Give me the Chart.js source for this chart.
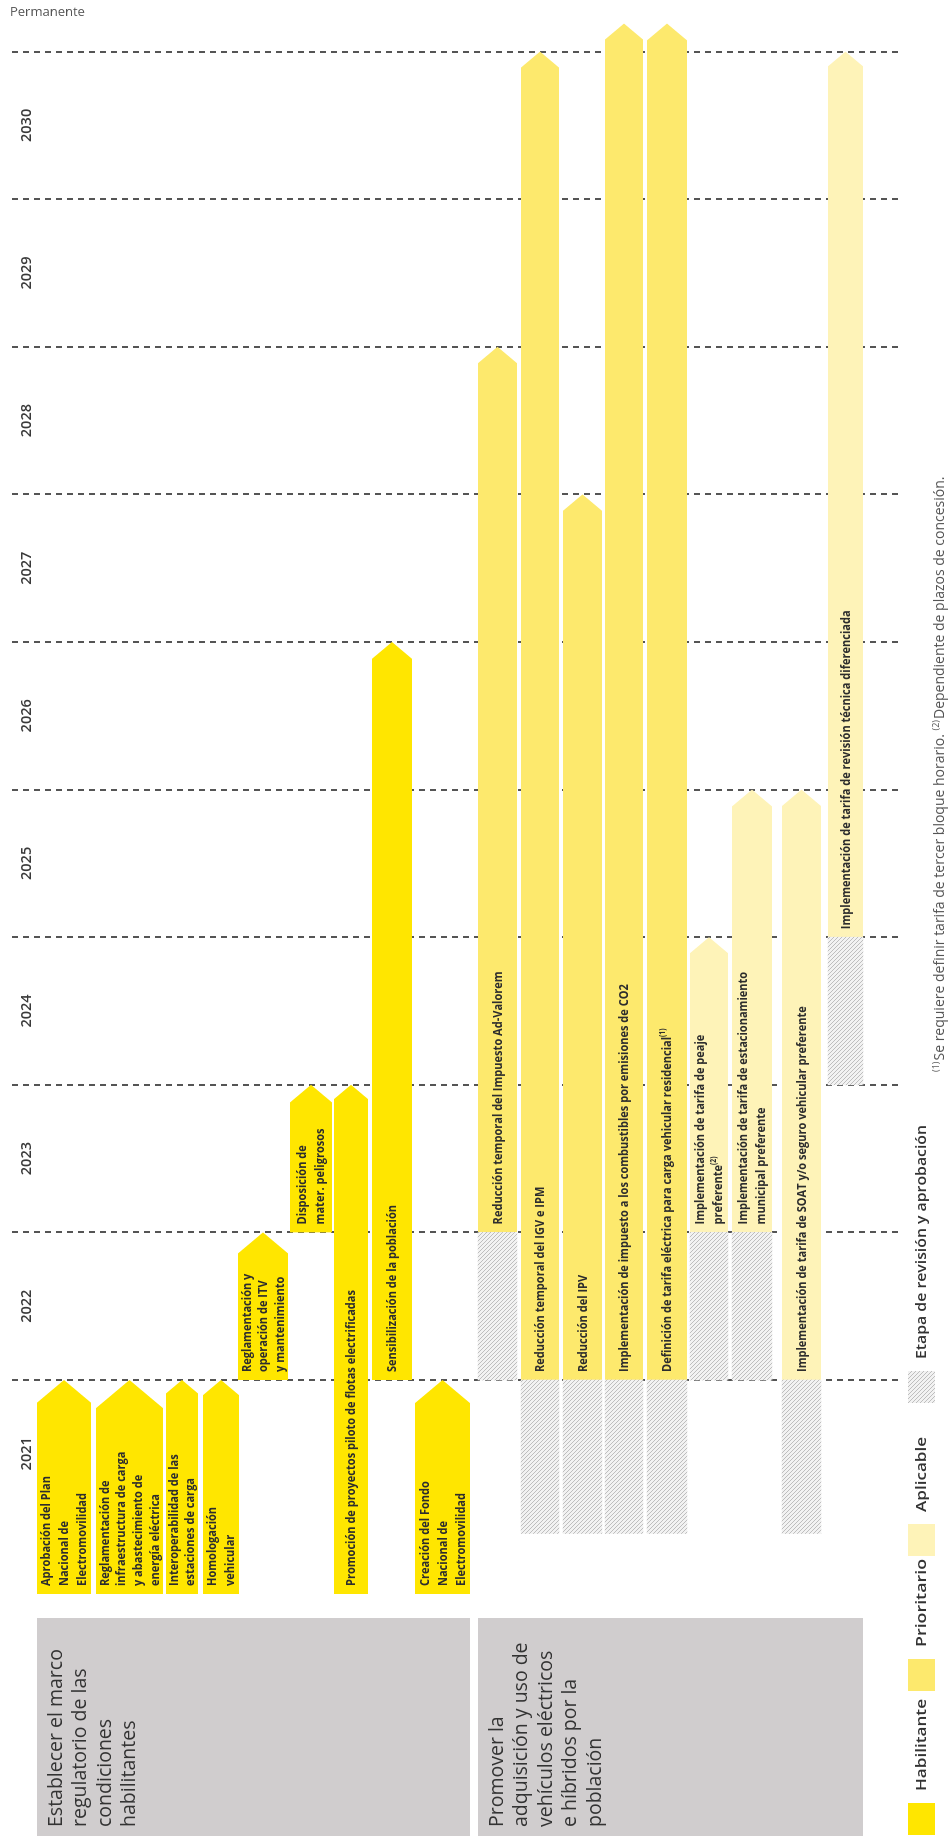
<!DOCTYPE html>
<html><head><meta charset="utf-8">
<script src="https://cdn.jsdelivr.net/npm/chart.js@4/dist/chart.umd.min.js"></script>
<style>
html,body{margin:0;padding:0;width:948px;height:1843px;overflow:hidden;background:#fff;}
#wrap{position:absolute;left:0;top:0;width:1843px;height:948px;transform-origin:0 0;transform:translate(0,1843px) rotate(-90deg);}
canvas{display:block;}
</style></head><body>
<div id="wrap"><canvas id="c" width="1843" height="948"></canvas></div>
<script>
// ---------------- DATA ----------------
const yearLabels = ['2021','2022','2023','2024','2025','2026','2027','2028','2029','2030'];
const yearValues = [2021,2022,2023,2024,2025,2026,2027,2028,2029,2030];
const permanentLabel = 'Permanente';
const groupNames = [
  'Establecer el marco\nregulatorio de las\ncondiciones\nhabilitantes',
  'Promover la\nadquisición y uso de\nvehículos eléctricos\ne híbridos por la\npoblación'
];
const taskNames = [
  'Aprobación del Plan\nNacional de\nElectromovilidad',
  'Reglamentación de\ninfraestructura de carga\ny abastecimiento de\nenergía eléctrica',
  'Interoperabilidad de las\nestaciones de carga',
  'Homologación\nvehicular',
  'Reglamentación y\noperación de ITV\ny mantenimiento',
  'Disposición de\nmater. peligrosos',
  'Promoción de proyectos piloto de flotas electrificadas',
  'Sensibilización de la población',
  'Creación del Fondo\nNacional de\nElectromovilidad',
  'Reducción temporal del Impuesto Ad-Valorem',
  'Reducción temporal del IGV e IPM',
  'Reducción del IPV',
  'Implementación de impuesto a los combustibles por emisiones de CO2',
  'Definición de tarifa eléctrica para carga vehicular residencial{(1)}',
  'Implementación de tarifa de peaje\npreferente{(2)}',
  'Implementación de tarifa de estacionamiento\nmunicipal preferente',
  'Implementación de tarifa de SOAT y/o seguro vehicular preferente',
  'Implementación de tarifa de revisión técnica diferenciada'
];
const taskGroup = [0,0,0,0,0,0,0,0,0, 1,1,1,1,1,1,1,1,1];
const taskKind = ['Habilitante','Habilitante','Habilitante','Habilitante','Habilitante','Habilitante','Habilitante','Habilitante','Habilitante',
  'Prioritario','Prioritario','Prioritario','Prioritario','Prioritario','Aplicable','Aplicable','Aplicable','Aplicable'];
const taskStart = [2020.55,2020.55,2020.55,2020.55,2022,2023,2020.55,2022,2020.55, 2023,2022,2022,2022,2022,2023,2023,2022,2025];
const taskEnd   = [2022,2022,2022,2022,2023,2024,2024,2027,2022, 2029,2031,2028,2031.19,2031.19,2025,2026,2026,2031];
const reviewStart = [null,null,null,null,null,null,null,null,null, 2022,2020.96,2020.96,2020.96,2020.96,2022,2022,2020.96,2024];
const reviewEnd   = [null,null,null,null,null,null,null,null,null, 2023,2022,2022,2022,2022,2023,2023,2022,2025];
const legendLabels = ['Habilitante','Prioritario','Aplicable','Etapa de revisión y aprobación'];
const footnoteText = '{(1)}Se requiere definir tarifa de tercer bloque horario. {(2)}Dependiente de plazos de concesión.';

// ---------------- LAYOUT / STYLE ----------------
const W = 1843, H = 948;
const X_MIN = 2020.5, X_MAX = 2031.3;
const PX_PER_YEAR = 147.6, X_AT_2022 = 463;
const padL = X_AT_2022 - (2022 - X_MIN) * PX_PER_YEAR;
const padR = W - (X_AT_2022 + (X_MAX - 2022) * PX_PER_YEAR);
const rowThick = [54,67,32,36,50,42,34,40,55, 39,38,39,38,40,38,40,39,35];
const rowGap   = [0,5,3,5,-1,2,2,4,3, 8,4,4,3,4,3,4,10,7];
const ROW_ORIGIN = 37;
const rowCenter = [];
(function(){ let p = ROW_ORIGIN; for (let i=0;i<rowThick.length;i++){ p += rowGap[i]; rowCenter.push(p + rowThick[i]/2); p += rowThick[i]; } })();
const kindColor = {Habilitante:'#FFE600', Prioritario:'#FDE96D', Aplicable:'#FEF3B8'};
const BOX = {x0:7, x1:225, color:'#D0CDCE'};
const GRID = {y0:12, y1:903, color:'#555555'};
const TEXT_DARK = '#2d2d2d';
const BAR_FONT = "bold 13px 'Open Sans'";
const SUP_FONT = "bold 8px 'Open Sans'";
const legendX = [8,152,287,440];
const legendTextW = [92,88,75,234];
const LEG = {top:908, w:32, h:27};
const FOOT = {x:771, y:940};

const canvas = document.getElementById('c');
const ctx0 = canvas.getContext('2d');

function makeHatch(){
  const c = document.createElement('canvas'); c.width = 4; c.height = 4;
  const g = c.getContext('2d');
  g.fillStyle = '#F2F2F2'; g.fillRect(0,0,4,4);
  g.strokeStyle = '#BEBEBE'; g.lineWidth = 1;
  g.beginPath();
  g.moveTo(0,0); g.lineTo(4,4);
  g.moveTo(-1,3); g.lineTo(1,5);
  g.moveTo(3,-1); g.lineTo(5,1);
  g.stroke();
  return ctx0.createPattern(c,'repeat');
}
const hatch = makeHatch();

// compress factor for condensed bar font
ctx0.font = BAR_FONT;
const BAR_SX = 253 / ctx0.measureText('Reducción temporal del Impuesto Ad-Valorem').width;

function segs(text){
  return text.split(/(\{[^}]*\})/).filter(s=>s.length).map(s => s[0]==='{' ? {t:s.slice(1,-1), sup:true} : {t:s, sup:false});
}
function drawRich(ctx, text, x, y, font, supFont, sx, supRise){
  ctx.save();
  ctx.translate(x, y);
  ctx.scale(sx, 1);
  let cx = 0;
  for (const s of segs(text)){
    ctx.font = s.sup ? supFont : font;
    ctx.fillText(s.t, cx, s.sup ? -supRise : 0);
    cx += ctx.measureText(s.t).width + (s.sup ? 1 : 0);
  }
  ctx.restore();
}

const datasets = [];
taskNames.forEach((name, i) => {
  if (reviewStart[i] !== null){
    datasets.push({role:'review', row:i, data:[{x:[reviewStart[i], reviewEnd[i]], y:rowCenter[i]}],
      backgroundColor: hatch, barThickness: rowThick[i], borderWidth:0});
  }
  datasets.push({role:'task', row:i, data:[{x:[taskStart[i], taskEnd[i]], y:rowCenter[i]}],
    backgroundColor: kindColor[taskKind[i]], barThickness: rowThick[i], borderWidth:0});
});

const roadmapPlugin = {
  id:'roadmap',
  beforeDatasetsDraw(chart){
    const ctx = chart.ctx, xs = chart.scales.x, ys = chart.scales.y;
    ctx.save();
    groupNames.forEach((g, gi) => {
      const rows = taskGroup.map((v,i)=>v===gi?i:-1).filter(i=>i>=0);
      const first = rows[0], last = rows[rows.length-1];
      const top = ys.getPixelForValue(rowCenter[first] - rowThick[first]/2);
      const bot = ys.getPixelForValue(rowCenter[last] + rowThick[last]/2);
      ctx.fillStyle = BOX.color;
      ctx.fillRect(BOX.x0, top, BOX.x1 - BOX.x0, bot - top);
      ctx.fillStyle = '#333';
      ctx.font = "19.5px 'Open Sans'";
      ctx.textBaseline = 'middle'; ctx.textAlign = 'left';
      g.split('\n').forEach((ln, k) => ctx.fillText(ln, BOX.x0 + 9, top + 19 + k*24.5));
    });
    ctx.strokeStyle = GRID.color; ctx.lineWidth = 2; ctx.setLineDash([6,5]);
    for (let v = 2022; v <= 2031; v++){
      const x = Math.round(xs.getPixelForValue(v));
      ctx.beginPath(); ctx.moveTo(x, GRID.y0); ctx.lineTo(x, GRID.y1); ctx.stroke();
    }
    ctx.setLineDash([]);
    ctx.fillStyle = '#3a3a3a'; ctx.font = "600 14.5px 'Open Sans'";
    ctx.textAlign = 'center'; ctx.textBaseline = 'middle';
    yearLabels.forEach((lab, i) => ctx.fillText(lab, xs.getPixelForValue(yearValues[i] + 0.5), 27));
    ctx.save();
    ctx.translate(W - 12, 10);
    ctx.rotate(Math.PI/2);
    ctx.textAlign = 'left'; ctx.textBaseline = 'middle';
    ctx.fillStyle = '#555'; ctx.font = "13px 'Open Sans'";
    ctx.fillText(permanentLabel, 0, 0);
    ctx.restore();
    ctx.restore();
  },
  beforeDatasetDraw(chart, args){
    const ds = chart.data.datasets[args.index];
    if (ds.role !== 'task') return;
    const el = args.meta.data[0];
    const {x, y, base, height} = el.getProps(['x','y','base','height'], true);
    const left = Math.min(x, base), right = Math.max(x, base);
    const h = height/2, L = height*0.42;
    const ctx = chart.ctx;
    ctx.save();
    ctx.fillStyle = ds.backgroundColor;
    ctx.beginPath();
    ctx.moveTo(left, y - h); ctx.lineTo(right - L, y - h); ctx.lineTo(right, y);
    ctx.lineTo(right - L, y + h); ctx.lineTo(left, y + h); ctx.closePath();
    ctx.fill();
    ctx.restore();
    return false;
  },
  afterDatasetsDraw(chart){
    const ctx = chart.ctx;
    ctx.save();
    ctx.fillStyle = TEXT_DARK; ctx.textBaseline = 'middle'; ctx.textAlign = 'left';
    chart.data.datasets.forEach((ds, di) => {
      if (ds.role !== 'task') return;
      const el = chart.getDatasetMeta(di).data[0];
      const {x, y, base, height} = el.getProps(['x','y','base','height'], true);
      const left = Math.min(x, base);
      const lines = taskNames[ds.row].split('\n');
      const lh = Math.min(18, height / lines.length);
      lines.forEach((ln, k) => {
        const ty = y + (k - (lines.length - 1)/2) * lh + 0.5;
        drawRich(ctx, ln, left + 8, ty, BAR_FONT, SUP_FONT, BAR_SX, 5);
      });
    });
    ctx.restore();
  },
  afterDraw(chart){
    const ctx = chart.ctx;
    ctx.save();
    const swatches = [kindColor.Habilitante, kindColor.Prioritario, kindColor.Aplicable, hatch];
    legendLabels.forEach((lab, i) => {
      ctx.fillStyle = swatches[i];
      ctx.fillRect(legendX[i], LEG.top, LEG.w, LEG.h);
      ctx.fillStyle = '#333'; ctx.font = "600 14px 'Open Sans'";
      ctx.textBaseline = 'middle'; ctx.textAlign = 'left';
      const sx = legendTextW[i] / ctx.measureText(lab).width;
      ctx.save();
      ctx.translate(legendX[i] + LEG.w + 12, LEG.top + LEG.h/2 + 1);
      ctx.scale(sx, 1);
      ctx.fillText(lab, 0, 0);
      ctx.restore();
    });
    ctx.fillStyle = '#555'; ctx.textBaseline = 'alphabetic';
    drawRich(ctx, footnoteText, FOOT.x, FOOT.y + 4, "14px 'Open Sans'", "9px 'Open Sans'", 1, 5);
    ctx.restore();
  }
};

new Chart(canvas, {
  type:'bar',
  data:{ datasets },
  options:{
    responsive:false, animation:false, indexAxis:'y',
    layout:{padding:{left:padL, right:padR, top:0, bottom:0}},
    plugins:{legend:{display:false}, tooltip:{enabled:false}},
    datasets:{bar:{grouped:false, clip:false}},
    scales:{
      x:{type:'linear', min:X_MIN, max:X_MAX, display:false, offset:false},
      y:{type:'linear', min:0, max:H, reverse:true, display:false, offset:false}
    }
  },
  plugins:[roadmapPlugin]
});
</script>
</body></html>
